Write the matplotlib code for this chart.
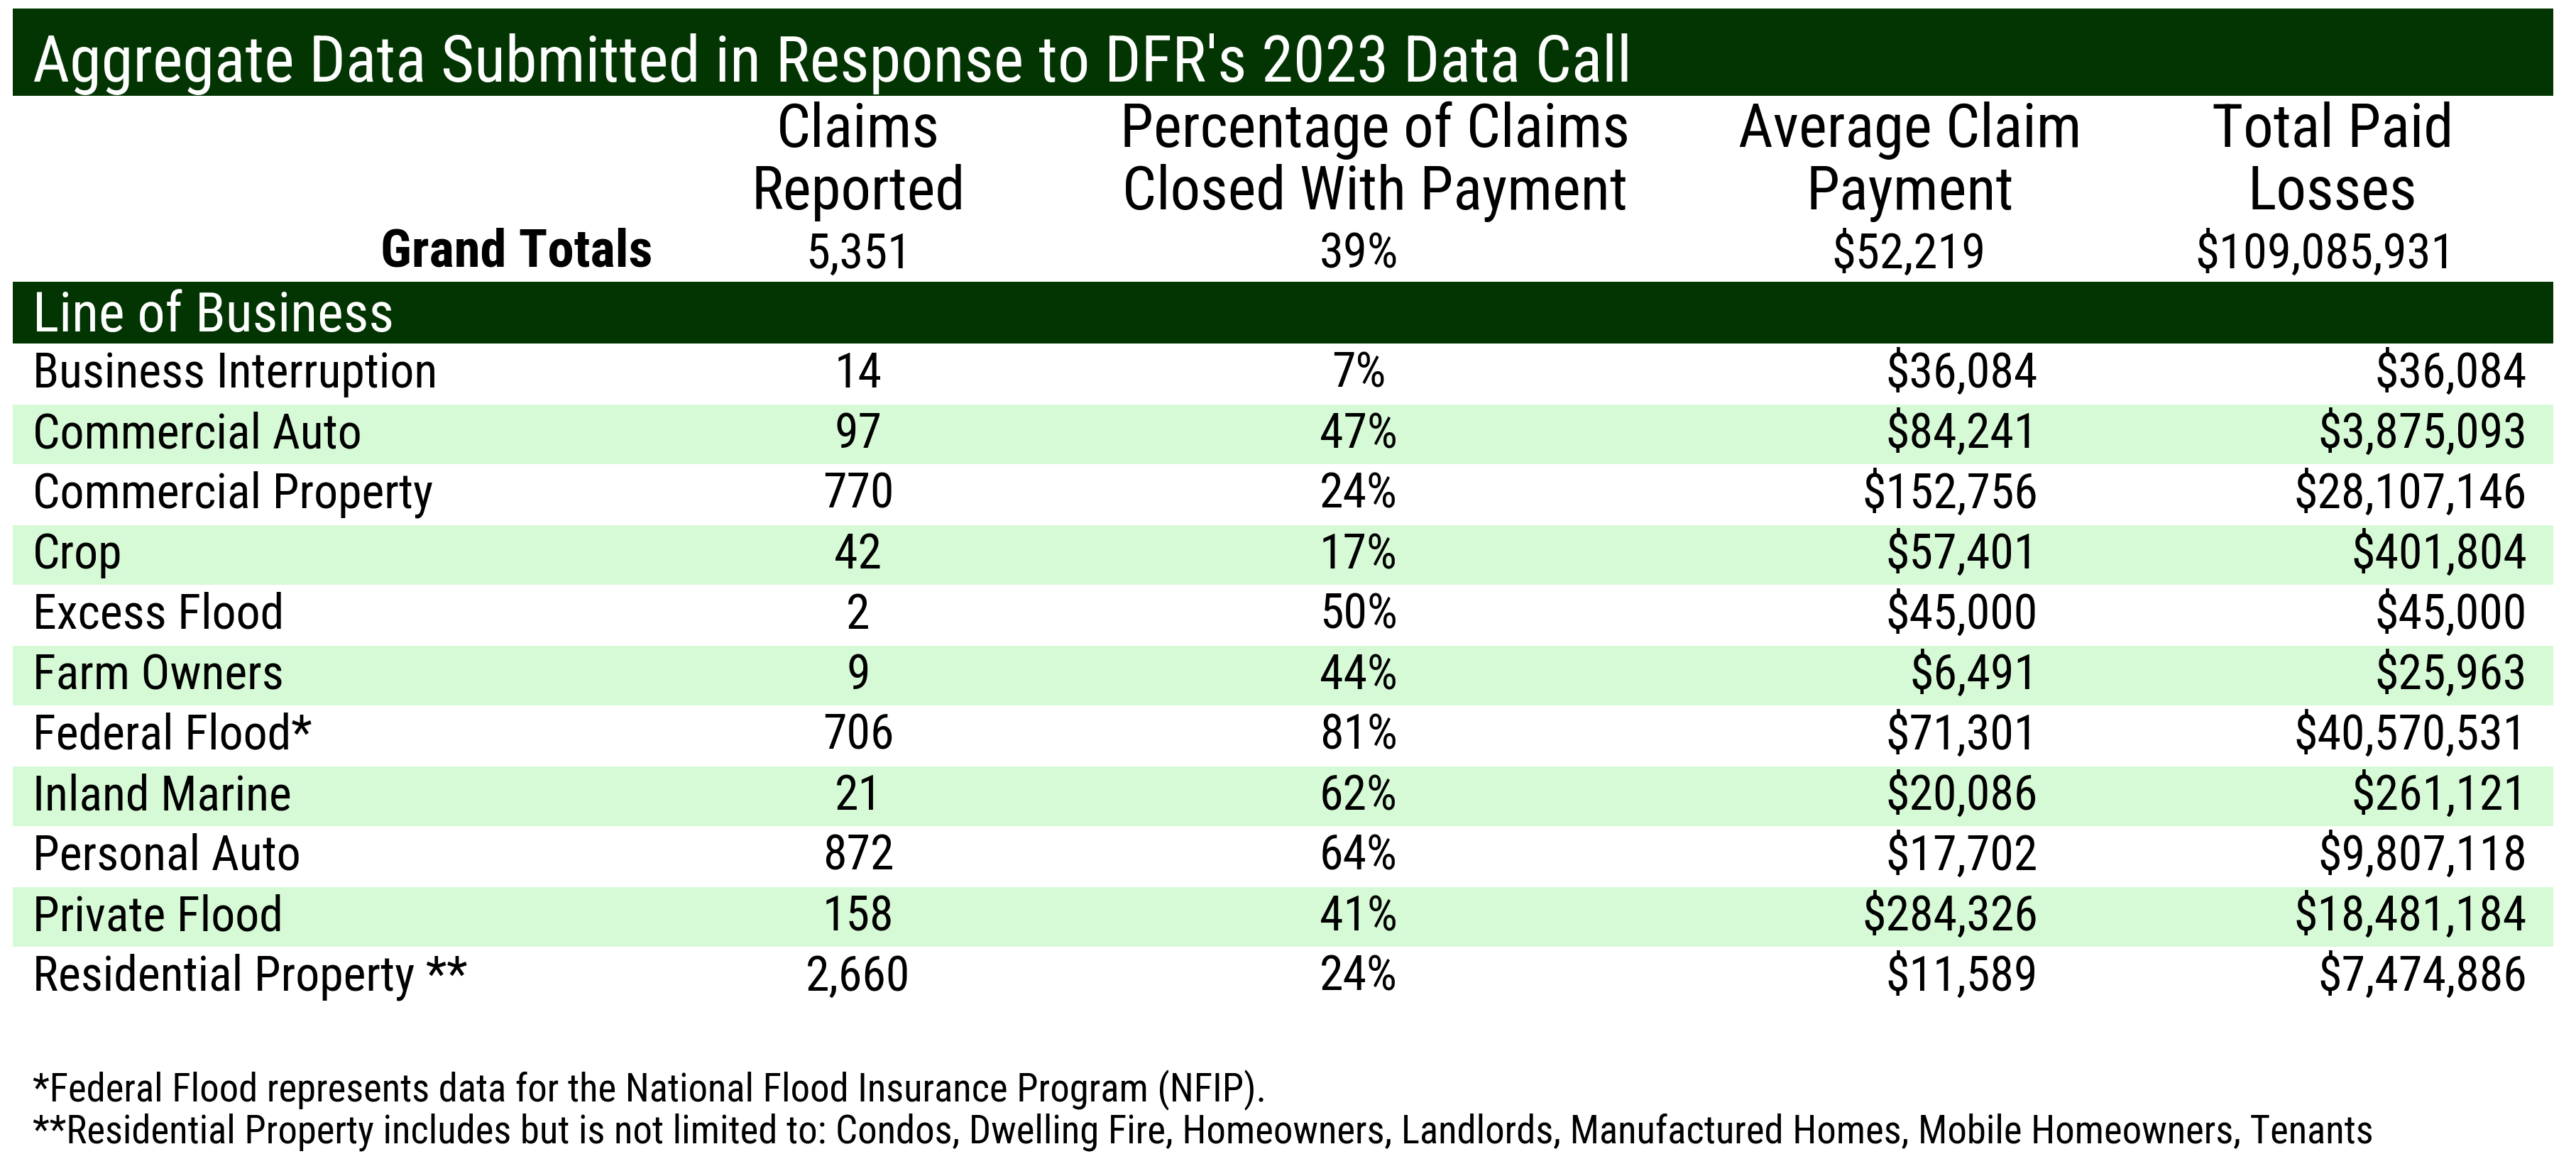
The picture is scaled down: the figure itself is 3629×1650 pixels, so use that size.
import matplotlib
matplotlib.use("Agg")
import matplotlib.pyplot as plt
from matplotlib.patches import Rectangle

title = "Aggregate Data Submitted in Response to DFR's 2023 Data Call"
col_headers = [("Claims", "Reported"),
               ("Percentage of Claims", "Closed With Payment"),
               ("Average Claim", "Payment"),
               ("Total Paid", "Losses")]
grand_totals = ["5,351", "39%", "$52,219", "$109,085,931"]
lines = ["Business Interruption", "Commercial Auto", "Commercial Property", "Crop",
         "Excess Flood", "Farm Owners", "Federal Flood*", "Inland Marine",
         "Personal Auto", "Private Flood", "Residential Property **"]
claims = [14, 97, 770, 42, 2, 9, 706, 21, 872, 158, 2660]
pct_closed = [7, 47, 24, 17, 50, 44, 81, 62, 64, 41, 24]
avg_payment = [36084, 84241, 152756, 57401, 45000, 6491, 71301, 20086, 17702, 284326, 11589]
total_paid = [36084, 3875093, 28107146, 401804, 45000, 25963, 40570531, 261121,
              9807118, 18481184, 7474886]
footnotes = ["*Federal Flood represents data for the National Flood Insurance Program (NFIP).",
             "**Residential Property includes but is not limited to: Condos, Dwelling Fire, "
             "Homeowners, Landlords, Manufactured Homes, Mobile Homeowners, Tenants"]

FAM = ["Roboto Condensed", "DejaVu Sans"]
plt.rcParams['font.family'] = FAM

DARK = "#033503"
LIGHT = "#d6fad6"

W, H = 3630, 1650
DPI = 100
fig = plt.figure(figsize=(W / DPI, H / DPI), dpi=DPI)
ax = fig.add_axes([0, 0, 1, 1])
ax.set_xlim(0, W)
ax.set_ylim(H, 0)
ax.axis("off")
renderer = fig.canvas.get_renderer()

CAP = 0.711  # Roboto cap height / em


def fit_size(s, target_w, cap_h, weight="normal", base=40):
    t = ax.text(0, 0, s, fontsize=base, fontweight=weight)
    w = t.get_window_extent(renderer).width
    t.remove()
    wf = base * target_w / w
    cf = cap_h / CAP * 72.0 / DPI
    return wf ** 0.75 * cf ** 0.25


fs_title = fit_size(title, 2373, 55)
fs_head = fit_size("Closed With Payment", 757, 50)
fs_gt = fit_size("$109,085,931", 382, 43)
fs_gtl = fit_size("Grand Totals", 405, 45, weight="bold")
fs_lob = fit_size("Line of Business", 528, 50)
fs_row = fit_size("Business Interruption", 618, 38)
fs_fn = fit_size(footnotes[1], 3491, 33)

XL, XR = 18, 3597
# title bar
ax.add_patch(Rectangle((XL, 12), XR - XL, 123, color=DARK, lw=0))
ax.text(46, 115, title, color="white", fontsize=fs_title, va="baseline", ha="left")

# column headers
hdr_x = [1209, 1937, 2691, 3286]
for (l1, l2), x in zip(col_headers, hdr_x):
    ax.text(x, 207, l1, fontsize=fs_head, ha="center", va="baseline")
    ax.text(x, 295, l2, fontsize=fs_head, ha="center", va="baseline")

# grand totals
ax.text(919, 376, "Grand Totals", fontsize=fs_gtl, fontweight="bold", ha="right", va="baseline")
gt_x = [1210, 1914, 2689, 3275]
for v, x in zip(grand_totals, gt_x):
    ax.text(x, 378, v, fontsize=fs_gt, ha="center", va="baseline")

# line of business bar
ax.add_patch(Rectangle((XL, 397), XR - XL, 87, color=DARK, lw=0))
ax.text(46, 467, "Line of Business", color="white", fontsize=fs_lob, va="baseline")

y0, pitch = 527, 85
for i, name in enumerate(lines):
    yc = y0 + pitch * i
    if i % 2 == 1:
        ax.add_patch(Rectangle((XL, yc - 42), XR - XL, 84, color=LIGHT, lw=0))
    yb = yc + 19
    ax.text(46, yb, name, fontsize=fs_row, ha="left", va="baseline")
    ax.text(1209, yb, f"{claims[i]:,}", fontsize=fs_row, ha="center", va="baseline")
    ax.text(1914, yb, f"{pct_closed[i]}%", fontsize=fs_row, ha="center", va="baseline")
    ax.text(2871, yb, f"${avg_payment[i]:,}", fontsize=fs_row, ha="right", va="baseline")
    ax.text(3560, yb, f"${total_paid[i]:,}", fontsize=fs_row, ha="right", va="baseline")

ax.text(46, 1552, footnotes[0], fontsize=fs_fn, ha="left", va="baseline")
ax.text(46, 1610, footnotes[1], fontsize=fs_fn, ha="left", va="baseline")

fig.savefig("out.png", dpi=DPI, facecolor="white")
